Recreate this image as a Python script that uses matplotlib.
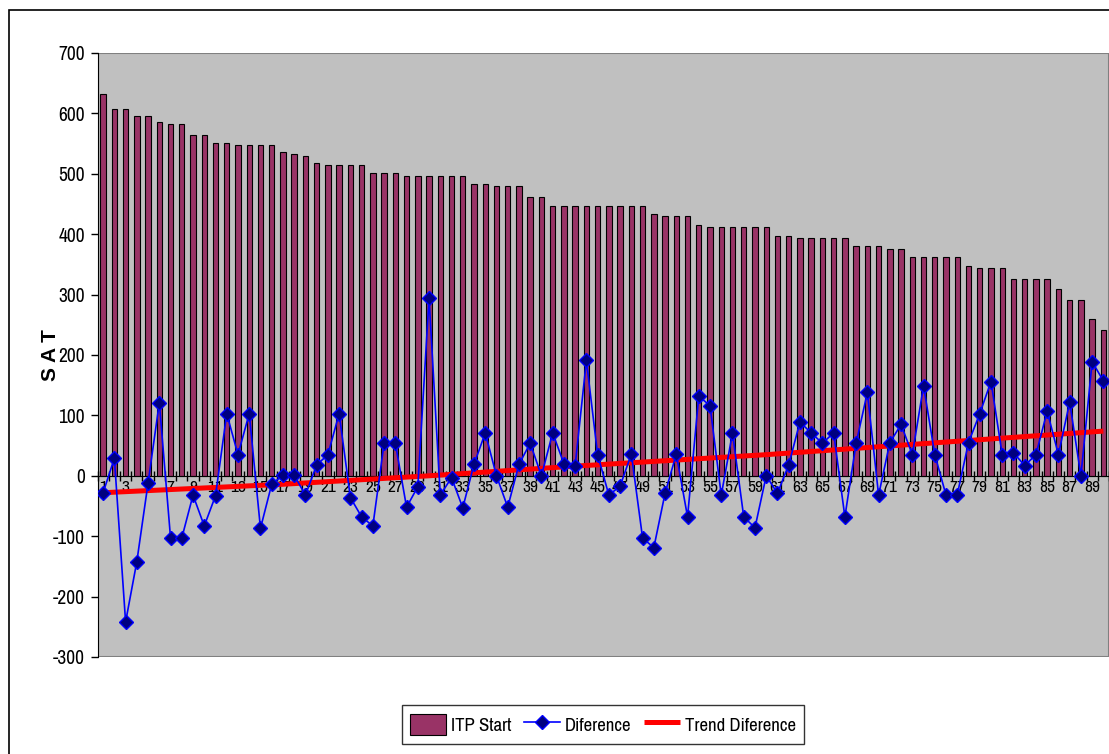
import numpy as np
import matplotlib.pyplot as plt
from matplotlib.patches import Rectangle

# category numbers on the x axis
students = list(range(1, 91))

itp_start = [632, 607, 607, 596, 596, 586, 582, 582, 564, 564,
             551, 551, 547, 547, 547, 547, 536, 532, 529, 518,
             515, 515, 515, 515, 501, 501, 501, 497, 497, 497,
             497, 497, 497, 483, 483, 480, 480, 480, 461, 461,
             447, 447, 447, 447, 447, 447, 447, 447, 447, 434,
             430, 430, 430, 416, 412, 412, 412, 412, 412, 412,
             397, 397, 394, 394, 394, 394, 394, 380, 380, 380,
             376, 376, 362, 362, 362, 362, 362, 348, 344, 344,
             344, 326, 326, 326, 326, 309, 291, 291, 259, 241]

diference = [-28, 29, -242, -142, -12, 121, -103, -103, -32, -83,
             -33, 103, 35, 103, -87, -14, 1, 1, -32, 18,
             35, 103, -36, -68, -83, 54, 54, -52, -18, 294,
             -32, -3, -53, 19, 71, 0, -52, 19, 54, 0,
             71, 20, 17, 191, 35, -32, -17, 36, -103, -119,
             -29, 36, -68, 132, 116, -32, 71, -68, -86, 0,
             -29, 18, 89, 71, 54, 71, -68, 54, 138, -32,
             55, 85, 35, 149, 35, -32, -31, 55, 103, 156,
             35, 38, 17, 35, 107, 35, 122, 0, 189, 157]

# trend line at a few categories
trend_x = [1, 17, 30, 43, 60, 73, 90]
trend_y = [-28, -14, 0, 16, 35, 52, 74]

y_ticks = list(range(-300, 701, 100))
x_labels = students[::2]

plt.rcParams['font.family'] = ['Liberation Sans Narrow', 'Archivo Narrow', 'Liberation Sans', 'DejaVu Sans']
plt.rcParams['axes.unicode_minus'] = False

fig = plt.figure(figsize=(11.09, 7.54), dpi=100)
# chart area border (right side is cut off in the original)
fig.patches.append(Rectangle((9 / 1109, -0.01), 1.2, (754 - 10) / 754 + 0.01,
                             transform=fig.transFigure, fill=False,
                             edgecolor='black', linewidth=1.2))

ax = fig.add_axes([97.5 / 1109, 97 / 754, 1 - 97.5 / 1109, 604 / 754])
ax.set_facecolor('#C0C0C0')

ax.bar(students, itp_start, width=0.48, color='#993366', edgecolor='black',
       linewidth=0.8, label='ITP Start', zorder=2)
ax.plot(trend_x, trend_y, color='#FF0000', linewidth=3.6, label='Trend Diference',
        zorder=3, solid_capstyle='butt')
ax.plot(students, diference, color='#0000FF', linewidth=1.2, marker='D',
        markersize=7, markerfacecolor='#000080', markeredgecolor='#0000FF',
        label='Diference', zorder=4)

ax.set_xlim(0.5, 90.5)
ax.set_ylim(-300, 700)
ax.set_yticks(y_ticks)
ax.tick_params(axis='y', direction='out', length=5, width=1, labelsize=14, pad=4)

# x axis crosses at zero, tick marks between categories, labels on odd ones
ax.spines['bottom'].set_position(('data', 0))
ax.spines['bottom'].set_color('black')
ax.spines['bottom'].set_zorder(2.5)
ax.set_xticks(np.arange(0.5, 91, 1))
ax.set_xticklabels([])
ax.set_xticks(x_labels, minor=True)
ax.set_xticklabels([str(v) for v in x_labels], minor=True)
ax.tick_params(axis='x', which='major', direction='inout', length=7, width=1)
ax.tick_params(axis='x', which='minor', length=0, labelsize=12.5, pad=3)

for side in ['top', 'right']:
    ax.spines[side].set_visible(False)
ax.spines['left'].set_color('black')
ax.add_patch(Rectangle((0, 0), 1, 1, transform=ax.transAxes, fill=False,
                       edgecolor='#808080', linewidth=1.5, zorder=1))

ax.set_ylabel('S A T', fontsize=15, fontweight='bold', labelpad=-5,
              family=['Liberation Sans', 'DejaVu Sans'])

handles, labels = ax.get_legend_handles_labels()
order = [labels.index('ITP Start'), labels.index('Diference'), labels.index('Trend Diference')]
leg = fig.legend([handles[i] for i in order], [labels[i] for i in order],
                 loc='center', bbox_to_anchor=(603 / 1109, 1 - 724.5 / 754),
                 ncol=3, fontsize=13.5, frameon=True, fancybox=False,
                 edgecolor='black', handlelength=1.9, handleheight=1.4,
                 columnspacing=0.7, handletextpad=0.25, borderpad=0.45)
leg.get_frame().set_linewidth(1.0)

fig.savefig('out.png', dpi=100)
